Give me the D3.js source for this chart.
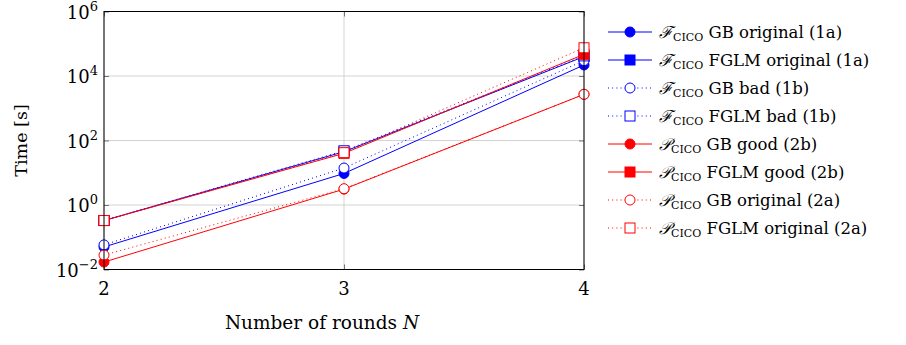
<!DOCTYPE html>
<html>
<head>
<meta charset="utf-8">
<script src="https://cdn.jsdelivr.net/npm/d3@7"></script>
<style>
  body { margin: 0; background: #fff; }
  text { font-family: "DejaVu Serif", "Liberation Serif", serif; fill: #000; }
</style>
</head>
<body>
<svg id="chart" width="906" height="345"></svg>
<script>
// rounds on the x axis
const rounds = [2, 3, 4];
const yTicks = [1e-2, 1e0, 1e2, 1e4, 1e6];

// time in seconds per series, one value per round
const fGbOrig = [0.05, 9.5, 22000];
const fFglmOrig = [0.33, 45, 40000];
const fGbBad = [0.058, 14, 30000];
const fFglmBad = [0.33, 48, 42000];
const pGbGood = [0.017, 3.1, 2700];
const pFglmGood = [0.33, 40, 47000];
const pGbOrig = [0.028, 3.2, 2700];
const pFglmOrig = [0.33, 42, 75000];

const series = [
  { sym: "ℱ", label: "GB original (1a)", vals: fGbOrig, color: "#0000ff", mark: "circle", fill: true, dotted: false },
  { sym: "ℱ", label: "FGLM original (1a)", vals: fFglmOrig, color: "#0000ff", mark: "square", fill: true, dotted: false },
  { sym: "ℱ", label: "GB bad (1b)", vals: fGbBad, color: "#0000ff", mark: "circle", fill: false, dotted: true },
  { sym: "ℱ", label: "FGLM bad (1b)", vals: fFglmBad, color: "#0000ff", mark: "square", fill: false, dotted: true },
  { sym: "𝒫", label: "GB good (2b)", vals: pGbGood, color: "#ff0000", mark: "circle", fill: true, dotted: false },
  { sym: "𝒫", label: "FGLM good (2b)", vals: pFglmGood, color: "#ff0000", mark: "square", fill: true, dotted: false },
  { sym: "𝒫", label: "GB original (2a)", vals: pGbOrig, color: "#ff0000", mark: "circle", fill: false, dotted: true },
  { sym: "𝒫", label: "FGLM original (2a)", vals: pFglmOrig, color: "#ff0000", mark: "square", fill: false, dotted: true }
];

const margin = { top: 11.5, left: 104, right: 584, bottom: 269.5 };
const svg = d3.select('#chart');

const x = d3.scaleLinear().domain([2, 4]).range([margin.left, margin.right]);
const y = d3.scaleLog().domain([1e-2, 1e6]).range([margin.bottom, margin.top]);

// grid lines
const grid = svg.append('g').attr('stroke', '#c8c8c8').attr('stroke-width', 0.8);
grid.selectAll('line.gy').data(yTicks).join('line')
  .attr('x1', margin.left).attr('x2', margin.right)
  .attr('y1', d => y(d)).attr('y2', d => y(d));
grid.selectAll('line.gx').data(rounds).join('line')
  .attr('y1', margin.top).attr('y2', margin.bottom)
  .attr('x1', d => x(d)).attr('x2', d => x(d));

// axes (ticks inside, like pgfplots)
const axisL = svg.append('g').attr('transform', `translate(${margin.left},0)`)
  .call(d3.axisLeft(y).tickValues(yTicks).tickSize(-5).tickFormat(''));
const axisB = svg.append('g').attr('transform', `translate(0,${margin.bottom})`)
  .call(d3.axisBottom(x).tickValues(rounds).tickSize(-5).tickFormat(''));
const axisR = svg.append('g').attr('transform', `translate(${margin.right},0)`)
  .call(d3.axisRight(y).tickValues(yTicks).tickSize(-5).tickFormat(''));
const axisT = svg.append('g').attr('transform', `translate(0,${margin.top})`)
  .call(d3.axisTop(x).tickValues(rounds).tickSize(-5).tickFormat(''));
[axisL, axisB, axisR, axisT].forEach(a => {
  a.select('.domain').remove();
  a.selectAll('line').attr('stroke', '#555').attr('stroke-width', 0.8);
});

// tick labels
yTicks.forEach(v => {
  const t = svg.append('text')
    .attr('x', margin.left - 6).attr('y', y(v) + 7)
    .attr('text-anchor', 'end').style('font-size', '18px');
  t.append('tspan').text('10');
  t.append('tspan').attr('dy', -8).style('font-size', '13px').text(String(Math.round(Math.log10(v))).replace('-', '−'));
});
svg.selectAll('text.xt').data(rounds).join('text')
  .attr('x', d => x(d)).attr('y', 295)
  .attr('text-anchor', 'middle').style('font-size', '18px')
  .text(d => d);

// axis titles
const xl = svg.append('text').attr('x', x(3) - 22).attr('y', 329)
  .attr('text-anchor', 'middle').style('font-size', '18.5px');
xl.append('tspan').text('Number of rounds ');
xl.append('tspan').style('font-style', 'italic').text('N');
svg.append('text')
  .attr('transform', `translate(27,${(margin.top + margin.bottom) / 2}) rotate(-90)`)
  .attr('text-anchor', 'middle').style('font-size', '17.5px')
  .text('Time [s]');

// plot lines and markers
const plot = svg.append('g');
const line = d3.line().x((d, i) => x(rounds[i])).y(d => y(d));

function drawMark(g, s, cx, cy) {
  const fill = s.fill ? s.color : '#fff';
  if (s.mark === 'circle') {
    g.append('circle').attr('cx', cx).attr('cy', cy).attr('r', 5)
      .attr('fill', fill).attr('stroke', s.color).attr('stroke-width', 1);
  } else {
    g.append('rect').attr('x', cx - 5).attr('y', cy - 5)
      .attr('width', 10).attr('height', 10)
      .attr('fill', fill).attr('stroke', s.color).attr('stroke-width', 1);
  }
}

series.forEach(s => {
  plot.append('path').datum(s.vals)
    .attr('d', line).attr('fill', 'none')
    .attr('stroke', s.color).attr('stroke-width', 1)
    .attr('stroke-dasharray', s.dotted ? '1,3.2' : null);
  const g = plot.append('g');
  s.vals.forEach((v, i) => drawMark(g, s, x(rounds[i]), y(v)));
});

// frame
svg.append('rect')
  .attr('x', margin.left).attr('y', margin.top)
  .attr('width', margin.right - margin.left).attr('height', margin.bottom - margin.top)
  .attr('fill', 'none').attr('stroke', '#000').attr('stroke-width', 1);

// legend
const legend = svg.append('g');
series.forEach((s, i) => {
  const ly = 32 + i * 28;
  const g = legend.append('g');
  g.append('line').attr('x1', 608).attr('x2', 652).attr('y1', ly).attr('y2', ly)
    .attr('stroke', s.color).attr('stroke-width', 1)
    .attr('stroke-dasharray', s.dotted ? '1,3.2' : null);
  drawMark(g, s, 630, ly);
  const t = g.append('text').attr('x', 659).attr('y', ly + 6).style('font-size', '16.5px');
  t.append('tspan').style('font-style', 'italic').text(s.sym);
  t.append('tspan').attr('dy', 3).style('font-size', '11px').text('CICO');
  t.append('tspan').attr('dy', -3).text(' ' + s.label);
});
</script>
</body>
</html>
